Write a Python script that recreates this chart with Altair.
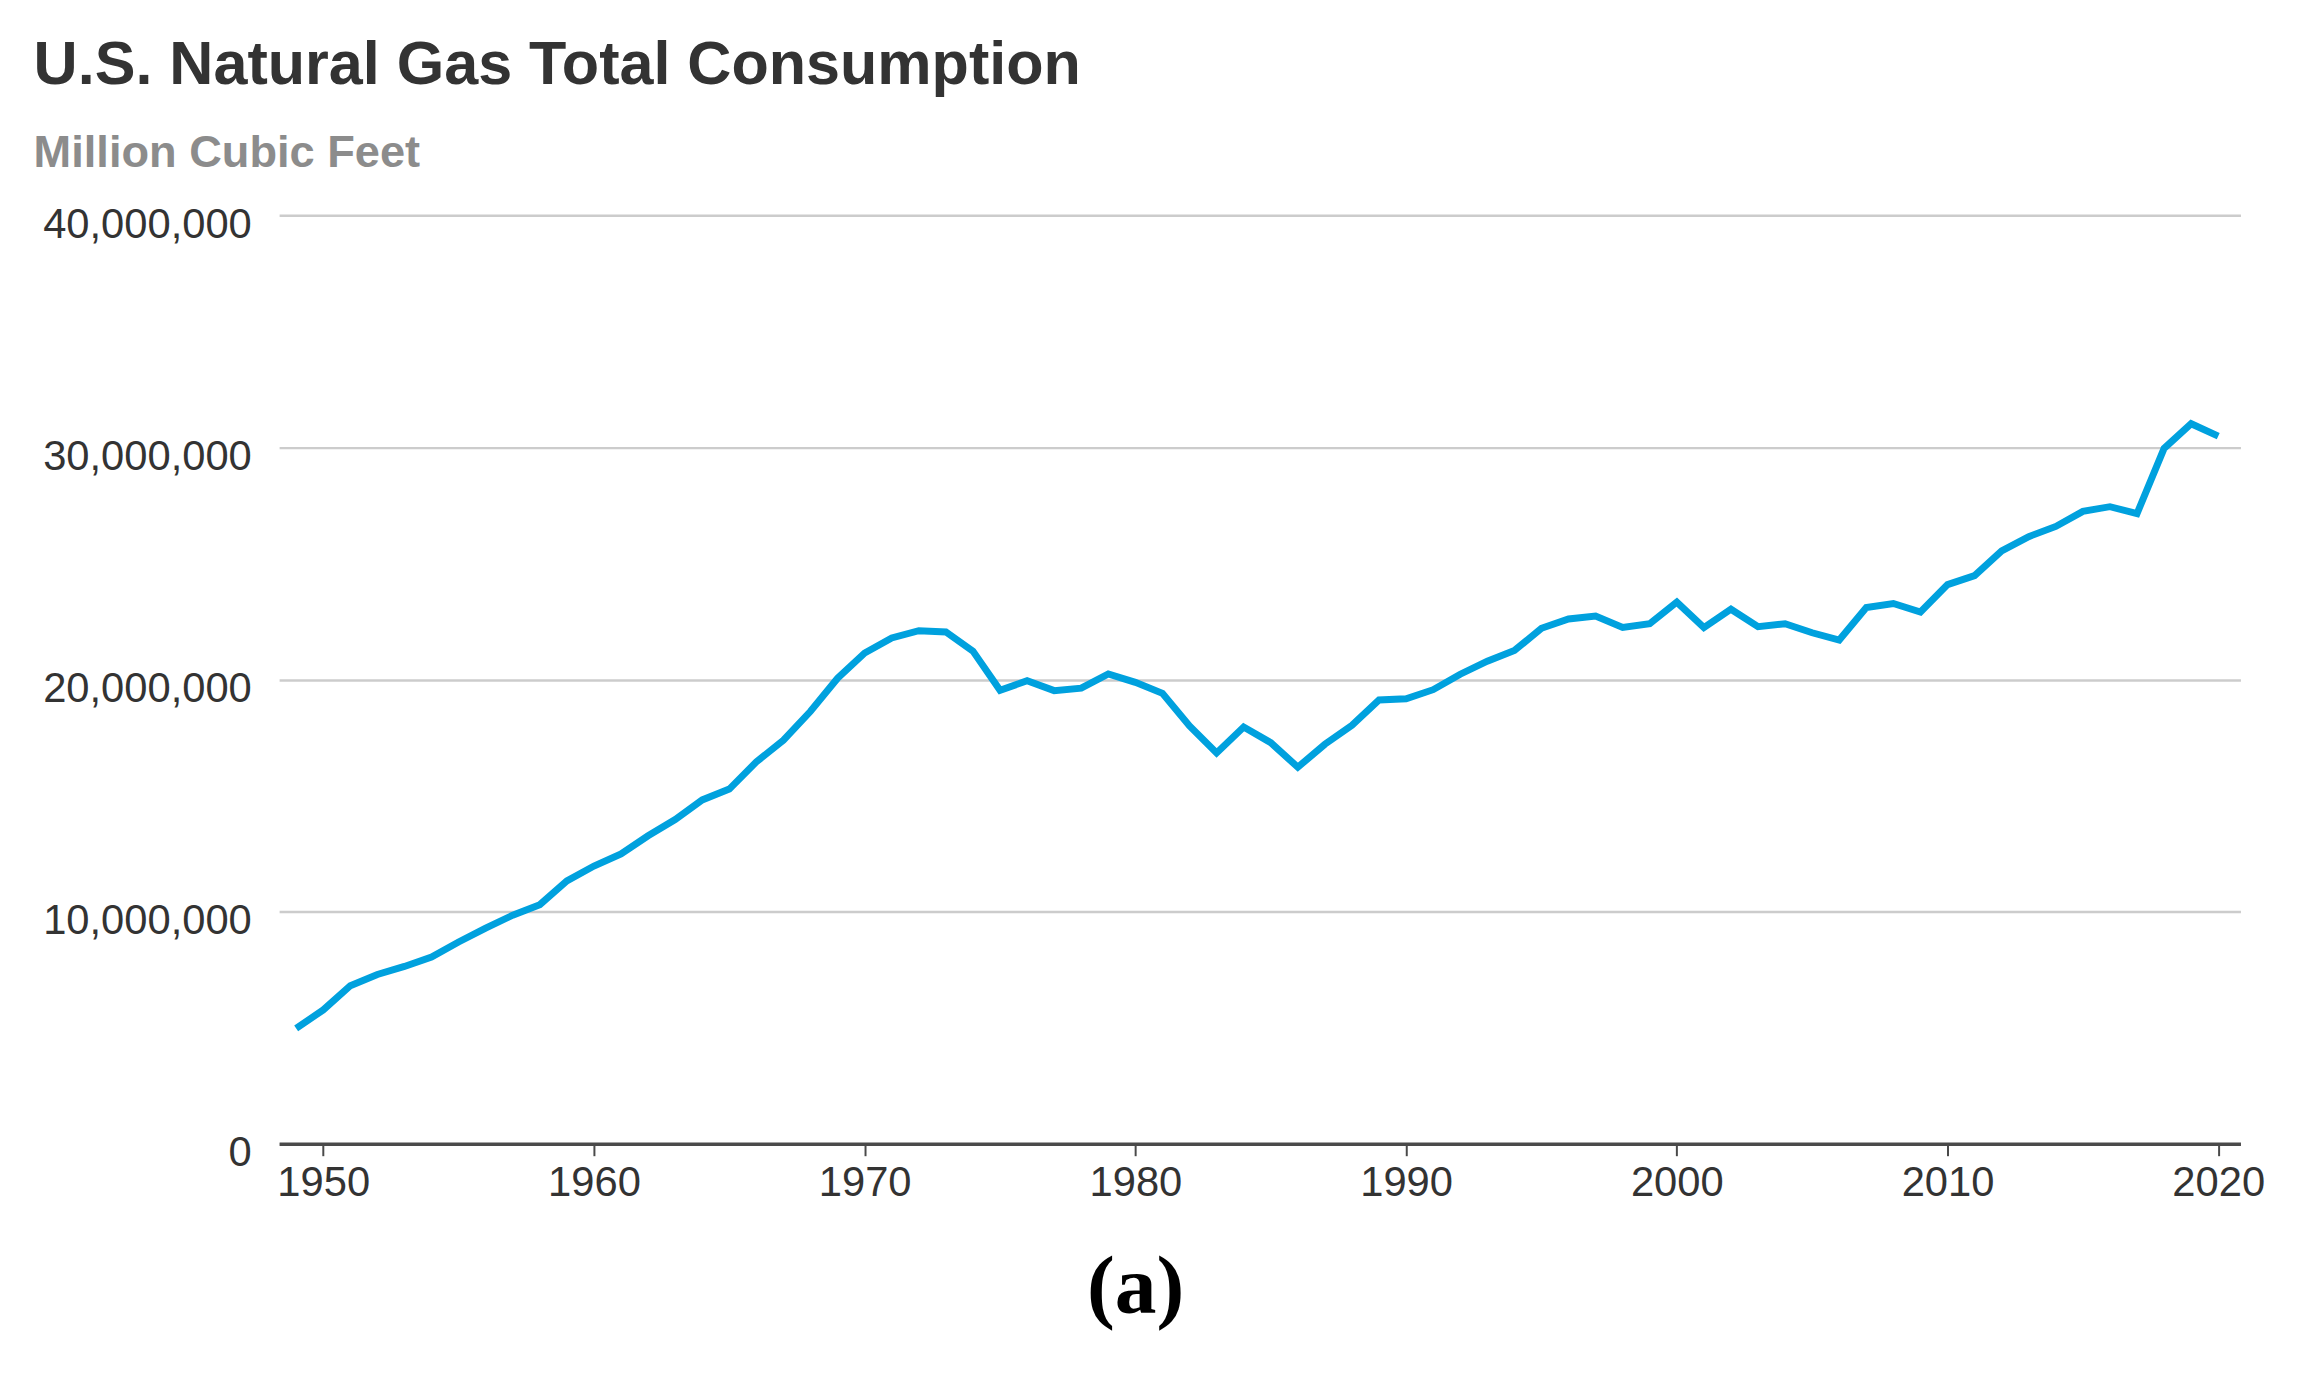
import altair as alt
import pandas as pd

years = list(range(1949, 2021))
consumption = [
    4971152, 5766542, 6810162, 7294320, 7639270, 8048504, 8693657, 9288576, 9846406, 10302511,
    11321199, 11966540, 12489390, 13266893, 13970229, 14813808, 15279716, 16452403, 17388360, 18632000,
    20056240, 21139386, 21793454, 22101452, 22049363, 21223133, 19537593, 19946496, 19520581, 19627478,
    20240761, 19877293, 19403858, 18001055, 16834914, 17950527, 17280943, 16221296, 17210810, 18030021,
    19118510, 19173556, 19562067, 20228228, 20789842, 21247390, 22207204, 22609126, 22737406, 22245998,
    22405023, 23333121, 22238624, 23027097, 22276502, 22402740, 22014455, 21699071, 23103793, 23277008,
    22910078, 24086797, 24477425, 25538487, 26155071, 26593097, 27244241, 27444748, 27148611, 29956374,
    31018587, 30483612,
]
y_ticks = [0, 10000000, 20000000, 30000000, 40000000]
x_ticks = [1950, 1960, 1970, 1980, 1990, 2000, 2010, 2020]

df = pd.DataFrame({"year": years, "value": consumption})

chart = (
    alt.Chart(df)
    .mark_line(color="#00a1de", strokeWidth=7, strokeJoin="miter")
    .encode(
        x=alt.X(
            "year:Q",
            scale=alt.Scale(domain=[1948.37, 2020.82], nice=False, zero=False),
            axis=alt.Axis(
                values=x_ticks,
                format="d",
                grid=False,
                domain=True,
                domainColor="#4a4a4a",
                domainWidth=3.5,
                ticks=True,
                tickColor="#4a4a4a",
                tickWidth=2,
                tickSize=12,
                labelFont="Liberation Sans",
                labelFontSize=42,
                labelColor="#333333",
                labelPadding=7,
                labelFlush=False,
                title="(a)",
                titleFont="Liberation Serif",
                titleFontSize=84,
                titleFontWeight="bold",
                titleColor="#000000",
                titleAlign="center",
                titleBaseline="alphabetic",
                titleX=862,
                titleY=170,
            ),
        ),
        y=alt.Y(
            "value:Q",
            scale=alt.Scale(domain=[0, 40000000], nice=False),
            axis=alt.Axis(
                values=y_ticks,
                format=",d",
                grid=True,
                gridColor="#cccccc",
                gridWidth=2.5,
                domain=False,
                ticks=False,
                labelFont="Liberation Sans",
                labelFontSize=42,
                labelColor="#333333",
                labelPadding=28,
                labelOffset=9,
                labelLimit=0,
                title=None,
            ),
        ),
    )
    .properties(
        width=1975,
        height=935,
        padding={"left": 25, "top": 23, "right": 40, "bottom": 20},
        title=alt.TitleParams(
            text="U.S. Natural Gas Total Consumption",
            subtitle="Million Cubic Feet",
            anchor="start",
            frame="bounds",
            dx=-9,
            font="Liberation Sans",
            fontSize=61.5,
            fontWeight="bold",
            color="#333333",
            subtitleFont="Liberation Sans",
            subtitleFontSize=45.5,
            subtitleFontWeight="bold",
            subtitleColor="#8c8c8c",
            subtitlePadding=35,
            offset=27,
        ),
    )
    .configure_view(stroke=None)
)

chart.save("out.html", embed_options={"renderer": "svg", "actions": False})
